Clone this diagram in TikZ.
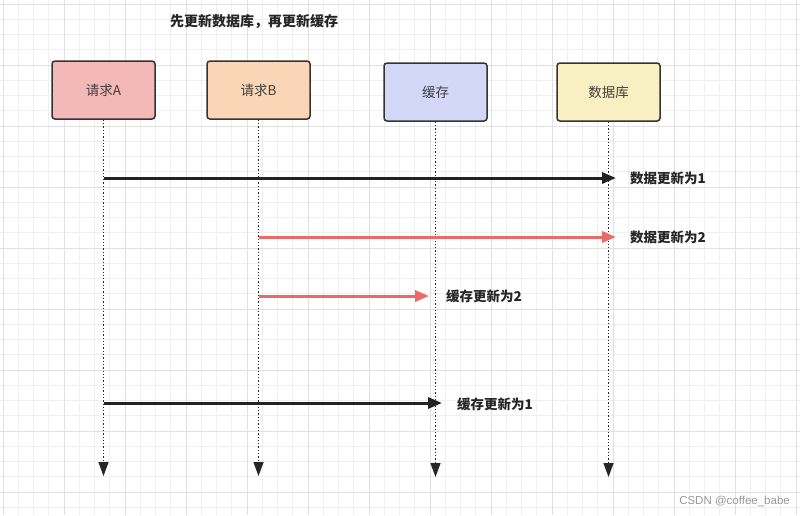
\documentclass[tikz,border=0pt]{standalone}
\usepackage{fontspec}
\setmainfont{Noto Sans CJK SC}
\newfontfamily\wmfont{Liberation Sans}
\usetikzlibrary{arrows.meta}
\definecolor{gridminor}{HTML}{EFEFEF}
\definecolor{gridmajor}{HTML}{E0E0E0}
\definecolor{boxline}{HTML}{333333}
\definecolor{fillA}{HTML}{F4B8B6}
\definecolor{fillB}{HTML}{FAD6B6}
\definecolor{fillC}{HTML}{D4D8F8}
\definecolor{fillD}{HTML}{F8EFC2}
\definecolor{redarrow}{HTML}{EA6B66}
\definecolor{blackarrow}{HTML}{222222}
\begin{document}
\begin{tikzpicture}[x=1pt,y=-1pt,
  actor/.style={draw=boxline,line width=1.5pt,rounded corners=3pt,minimum width=103pt,minimum height=58pt,inner sep=0pt,font=\fontsize{13.5}{15}\selectfont,text=black!75},
  life/.style={draw=black!85,line width=1.3pt,dash pattern=on 1.3pt off 2pt,-{Triangle[length=14pt,width=10pt]}},
  msg/.style={line width=3pt,-{Triangle[length=14pt,width=11pt]}},
  lbl/.style={anchor=west,font=\bfseries\fontsize{13.5}{15}\selectfont,text=black!85,inner sep=0pt}]
\useasboundingbox (0,0) rectangle (800,515);
\fill[white] (0,0) rectangle (800,515);
% grid
\foreach \i in {0,...,53} {
  \draw[gridminor,line width=0.7pt] ({3+\i*15.25},0) -- ({3+\i*15.25},515);
}
\foreach \j in {0,...,34} {
  \draw[gridminor,line width=0.7pt] (0,{4+\j*15.25}) -- (800,{4+\j*15.25});
}
\foreach \i in {0,...,13} {
  \draw[gridmajor,line width=0.9pt] ({3+\i*61},0) -- ({3+\i*61},515);
}
\foreach \j in {0,...,8} {
  \draw[gridmajor,line width=0.9pt] (0,{4+\j*61}) -- (800,{4+\j*61});
}
% title
\node[font=\bfseries\fontsize{14}{16}\selectfont,text=black!85] (title) at (254,22) {先更新数据库，再更新缓存};
% actors
\node[actor,fill=fillA] (A) at (103.5,90) {请求A};
\node[actor,fill=fillB] (B) at (258.5,90) {请求B};
\node[actor,fill=fillC] (C) at (435.5,92) {缓存};
\node[actor,fill=fillD] (D) at (608.5,92) {数据库};
% lifeline ends
\coordinate (Ae) at (103.5,476);
\coordinate (Be) at (258.5,476);
\coordinate (Ce) at (435.5,477);
\coordinate (De) at (608.5,477);
\draw[life] (A.south) -- (Ae);
\draw[life] (B.south) -- (Be);
\draw[life] (C.south) -- (Ce);
\draw[life] (D.south) -- (De);
% message endpoints
\coordinate (m1s) at (103.5,178); \coordinate (m1e) at (616,178);
\coordinate (m2s) at (258.5,237); \coordinate (m2e) at (616,237);
\coordinate (m3s) at (258.5,296); \coordinate (m3e) at (429,296);
\coordinate (m4s) at (103.5,403); \coordinate (m4e) at (442,403);
\draw[msg,draw=blackarrow] (m1s) -- (m1e);
\draw[msg,draw=redarrow] (m2s) -- (m2e);
\draw[msg,draw=redarrow] (m3s) -- (m3e);
\draw[msg,draw=blackarrow] (m4s) -- (m4e);
\node[lbl] (l1) at (630,178) {数据更新为1};
\node[lbl] (l2) at (630,237) {数据更新为2};
\node[lbl] (l3) at (446,296) {缓存更新为2};
\node[lbl] (l4) at (457,404) {缓存更新为1};
% watermark
\node[anchor=east,font=\wmfont\fontsize{11.5}{13}\selectfont,text=black!40,inner sep=0pt] (wm) at (790,501) {CSDN @coffee\_babe};
\end{tikzpicture}
\end{document}
